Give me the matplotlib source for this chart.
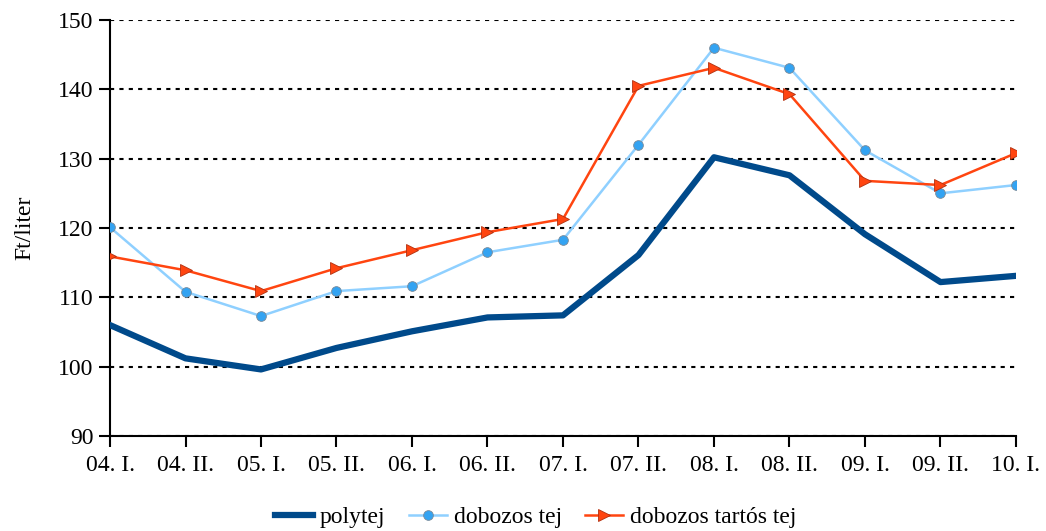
import matplotlib
matplotlib.use("Agg")
import matplotlib.pyplot as plt

# data
periods = ["04. I.", "04. II.", "05. I.", "05. II.", "06. I.", "06. II.", "07. I.",
           "07. II.", "08. I.", "08. II.", "09. I.", "09. II.", "10. I."]
polytej = [106.0, 101.2, 99.6, 102.7, 105.1, 107.1, 107.4, 116.1, 130.2, 127.6, 119.1, 112.2, 113.1]
dobozos = [120.1, 110.8, 107.3, 110.9, 111.6, 116.5, 118.3, 132.0, 146.0, 143.1, 131.2, 125.0, 126.2]
tartos = [115.9, 113.9, 110.9, 114.2, 116.8, 119.4, 121.3, 140.5, 143.1, 139.3, 126.8, 126.2, 130.8]

plt.rcParams['font.family'] = ['Liberation Serif', 'DejaVu Serif']

fig = plt.figure(figsize=(10.46, 5.31), dpi=100)
ax = fig.add_axes([110 / 1046, 1 - 436 / 531, (1016 - 110) / 1046, (436 - 20) / 531])

x = list(range(len(periods)))
ax.plot(x, polytej, color='#004a8b', linewidth=4.5, label='polytej', zorder=3)
ax.plot(x, dobozos, color='#8fd0ff', linewidth=1.8, marker='o', markersize=7,
        markerfacecolor='#33a3f2', markeredgecolor='#7a8a99', markeredgewidth=0.6,
        label='dobozos tej', zorder=4)
ax.plot(x, tartos, color='#ff4510', linewidth=1.8, marker='>', markersize=9,
        markerfacecolor='#ff4510', markeredgecolor='#b03010', markeredgewidth=0.6,
        label='dobozos tartós tej', zorder=5)

ax.set_xlim(0, len(periods) - 1)
ax.set_ylim(90, 150)
ax.set_yticks(range(90, 151, 10))
ax.set_xticks(x)
ax.set_xticklabels(periods)
ax.yaxis.grid(True, linestyle=(0, (2, 2.5)), color='black', linewidth=1.5)
ax.set_axisbelow(True)

for s in ['top', 'right']:
    ax.spines[s].set_visible(False)
for s in ['left', 'bottom']:
    ax.spines[s].set_linewidth(1.5)
ax.tick_params(axis='both', direction='out', length=8, width=1.5, labelsize=17)
ax.tick_params(axis='x', pad=6)
ax.tick_params(axis='y', pad=4)

ax.set_ylabel('Ft/liter', fontsize=17, labelpad=16)

ax.legend(loc='center', bbox_to_anchor=(0.47, -0.195), ncol=3, frameon=False,
          fontsize=17, handlelength=1.6, handletextpad=0.3, columnspacing=1.0)

fig.savefig('out.png', dpi=100)
